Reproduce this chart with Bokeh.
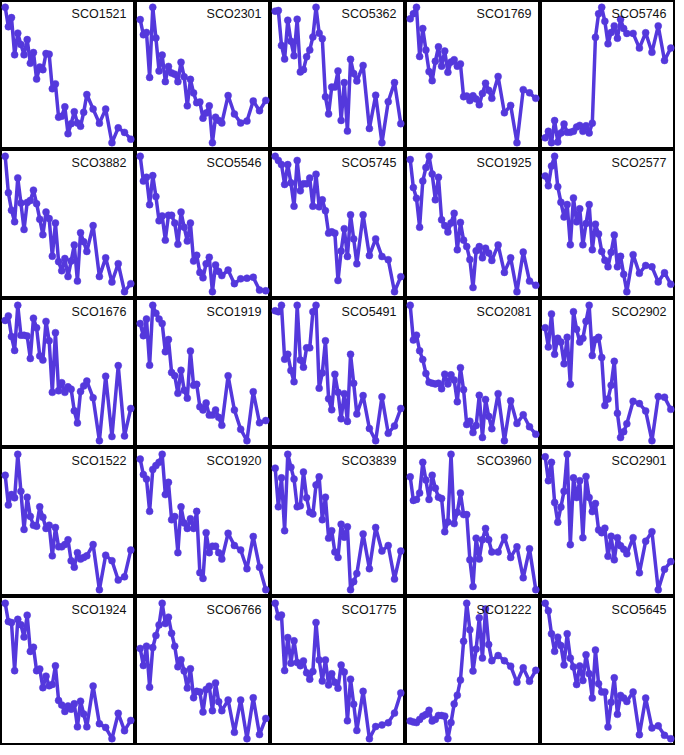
from bokeh.plotting import figure
from bokeh.layouts import gridplot
from bokeh.models import Range1d, DataRange1d, Label
from bokeh.embed import file_html
from bokeh.resources import INLINE

x = [0, 0.5, 1, 1.5, 2, 2.5, 3, 3.5, 4, 4.5, 5, 5.5, 6, 6.5, 7, 7.5, 8, 8.5, 9,
     9.5, 10, 10.5, 11, 11.5, 12, 12.5, 13, 14, 15, 16, 17, 18, 19, 20]

names = ["SCO1521", "SCO2301", "SCO5362", "SCO1769", "SCO5746",
         "SCO3882", "SCO5546", "SCO5745", "SCO1925", "SCO2577",
         "SCO1676", "SCO1919", "SCO5491", "SCO2081", "SCO2902",
         "SCO1522", "SCO1920", "SCO3839", "SCO3960", "SCO2901",
         "SCO1924", "SCO6766", "SCO1775", "SCO1222", "SCO5645"]

sco1521 = [435, 375, 403, 288, 355, 320, 288, 335, 262, 295, 213, 250, 242, 292, 290, 183, 198, 95, 98, 127, 44, 75, 112, 77, 67, 110, 165, 120, 76, 120, 16, 62, 48, 27]
sco2301 = [397, 350, 357, 218, 435, 340, 238, 287, 205, 252, 232, 228, 205, 265, 220, 130, 212, 170, 140, 142, 92, 108, 130, 16, 95, 85, 77, 162, 105, 77, 83, 145, 115, 147]
sco5362 = [423, 425, 317, 275, 395, 330, 285, 398, 235, 242, 282, 303, 343, 435, 355, 338, 158, 105, 188, 188, 238, 85, 202, 52, 274, 230, 207, 255, 60, 163, 16, 143, 202, 75]
sco1769 = [402, 418, 438, 285, 372, 305, 238, 210, 270, 315, 255, 302, 236, 268, 275, 255, 262, 160, 162, 148, 163, 153, 135, 170, 202, 180, 155, 223, 110, 133, 17, 182, 172, 155]
sco5746 = [35, 55, 20, 88, 22, 50, 77, 52, 52, 55, 68, 73, 55, 72, 50, 80, 343, 415, 435, 392, 323, 358, 378, 340, 398, 370, 355, 355, 310, 357, 297, 378, 272, 310]
sco3882 = [435, 322, 268, 232, 368, 290, 208, 292, 298, 330, 288, 240, 192, 262, 242, 125, 228, 108, 80, 118, 62, 110, 160, 48, 198, 170, 140, 220, 62, 120, 45, 102, 15, 40]
sco5546 = [435, 358, 370, 285, 375, 310, 235, 250, 175, 252, 252, 228, 162, 262, 215, 172, 228, 110, 128, 75, 58, 102, 122, 15, 98, 78, 65, 82, 40, 55, 57, 60, 20, 18]
sco5745 = [438, 425, 412, 350, 412, 355, 282, 425, 330, 352, 352, 370, 282, 382, 280, 302, 268, 198, 202, 198, 50, 142, 212, 125, 255, 180, 102, 255, 128, 180, 125, 115, 15, 62]
sco1925 = [425, 338, 305, 215, 358, 400, 435, 380, 300, 370, 238, 220, 200, 228, 258, 145, 230, 175, 155, 115, 28, 142, 155, 120, 150, 135, 112, 160, 75, 120, 15, 138, 48, 35]
sco2577 = [375, 345, 405, 435, 342, 295, 250, 288, 165, 308, 235, 275, 165, 230, 288, 150, 228, 198, 145, 118, 98, 142, 195, 98, 130, 75, 22, 135, 78, 102, 98, 52, 80, 45]
sco1676 = [388, 402, 338, 295, 435, 342, 342, 340, 270, 395, 365, 278, 265, 385, 325, 165, 350, 170, 195, 165, 182, 175, 108, 70, 168, 185, 200, 148, 15, 215, 28, 248, 30, 115]
sco1919 = [378, 340, 392, 248, 435, 410, 392, 378, 290, 328, 225, 215, 160, 232, 170, 145, 292, 185, 188, 118, 108, 130, 92, 92, 108, 85, 60, 215, 108, 48, 12, 165, 68, 75]
sco5491 = [415, 412, 432, 265, 280, 230, 195, 432, 262, 240, 300, 300, 412, 432, 175, 222, 322, 142, 108, 218, 162, 80, 158, 72, 280, 190, 95, 152, 50, 12, 148, 35, 58, 112]
sco2081 = [432, 325, 340, 292, 265, 222, 195, 192, 190, 192, 175, 220, 190, 218, 202, 135, 240, 172, 65, 75, 40, 62, 155, 25, 142, 90, 52, 160, 15, 138, 68, 95, 58, 35]
sco2902 = [365, 305, 408, 282, 332, 320, 252, 335, 188, 415, 360, 320, 332, 385, 435, 278, 328, 335, 272, 122, 142, 185, 260, 98, 22, 40, 65, 135, 128, 105, 12, 150, 148, 110]
sco1522 = [370, 278, 310, 300, 435, 320, 202, 302, 242, 215, 212, 272, 240, 205, 215, 120, 208, 148, 148, 155, 170, 105, 85, 130, 110, 115, 120, 155, 15, 122, 105, 45, 55, 138]
sco1920 = [420, 372, 358, 258, 388, 400, 410, 435, 310, 348, 232, 242, 130, 272, 222, 205, 235, 205, 258, 68, 50, 192, 130, 150, 150, 130, 110, 190, 152, 138, 80, 180, 85, 15]
sco3839 = [392, 272, 362, 198, 435, 395, 358, 272, 275, 380, 300, 255, 250, 340, 365, 232, 302, 175, 198, 132, 115, 218, 178, 210, 15, 40, 65, 188, 80, 208, 135, 152, 48, 135]
sco3960 = [365, 292, 295, 315, 410, 355, 295, 370, 330, 302, 298, 195, 225, 435, 220, 255, 315, 248, 248, 108, 25, 175, 110, 170, 205, 170, 132, 132, 178, 115, 148, 52, 142, 15]
sco2901 = [428, 360, 412, 298, 242, 285, 330, 435, 178, 368, 312, 360, 198, 372, 312, 272, 295, 220, 212, 225, 145, 202, 135, 198, 175, 165, 152, 198, 98, 188, 215, 50, 108, 130]
sco1924 = [435, 378, 375, 225, 385, 368, 330, 398, 285, 298, 225, 230, 172, 208, 178, 182, 240, 132, 118, 98, 115, 105, 122, 50, 130, 90, 50, 177, 60, 48, 13, 92, 38, 70]
sco6766 = [295, 242, 302, 175, 298, 335, 368, 435, 372, 392, 342, 302, 238, 260, 225, 172, 232, 142, 162, 160, 98, 168, 178, 102, 188, 130, 102, 135, 35, 135, 15, 142, 28, 78]
sco1775 = [435, 392, 398, 225, 328, 248, 318, 250, 240, 255, 218, 198, 222, 375, 258, 192, 258, 180, 215, 188, 170, 242, 220, 68, 198, 120, 38, 160, 12, 50, 55, 62, 92, 155]
sco1222 = [65, 62, 60, 70, 80, 85, 98, 65, 70, 82, 82, 80, 10, 60, 118, 145, 192, 312, 430, 348, 220, 288, 385, 260, 412, 302, 252, 268, 252, 235, 185, 230, 188, 222]
sco5645 = [430, 408, 340, 288, 330, 305, 248, 340, 268, 242, 190, 245, 202, 278, 222, 150, 292, 192, 168, 168, 65, 138, 210, 102, 158, 150, 140, 168, 42, 150, 62, 68, 40, 30]

series = [sco1521, sco2301, sco5362, sco1769, sco5746,
          sco3882, sco5546, sco5745, sco1925, sco2577,
          sco1676, sco1919, sco5491, sco2081, sco2902,
          sco1522, sco1920, sco3839, sco3960, sco2901,
          sco1924, sco6766, sco1775, sco1222, sco5645]

COLOR = "#5438DC"
W, H = 135, 149

figs = []
for name, ys in zip(names, series):
    p = figure(width=W, height=H, x_range=Range1d(-0.75, 20.75),
               y_range=DataRange1d(range_padding=0.1),
               output_backend="svg", toolbar_location=None, min_border=0)
    p.axis.visible = False
    p.grid.visible = False
    p.outline_line_color = "black"
    p.outline_line_width = 3
    p.outline_line_alpha = 1
    p.background_fill_color = "white"
    p.border_fill_color = "white"
    p.line(x, ys, line_width=3.5, color=COLOR)
    p.scatter(x, ys, size=7, fill_color=COLOR, line_color=COLOR, line_width=0.5)
    p.add_layout(Label(x=W - 9, y=H - 6, x_units="screen", y_units="screen",
                       text=name, text_align="right", text_baseline="top",
                       text_font="Liberation Sans", text_font_size="12.5px",
                       text_color="#111111"))
    figs.append(p)

grid = gridplot(figs, ncols=5, toolbar_location=None)

open("out.html", "w").write(file_html(grid, INLINE))
